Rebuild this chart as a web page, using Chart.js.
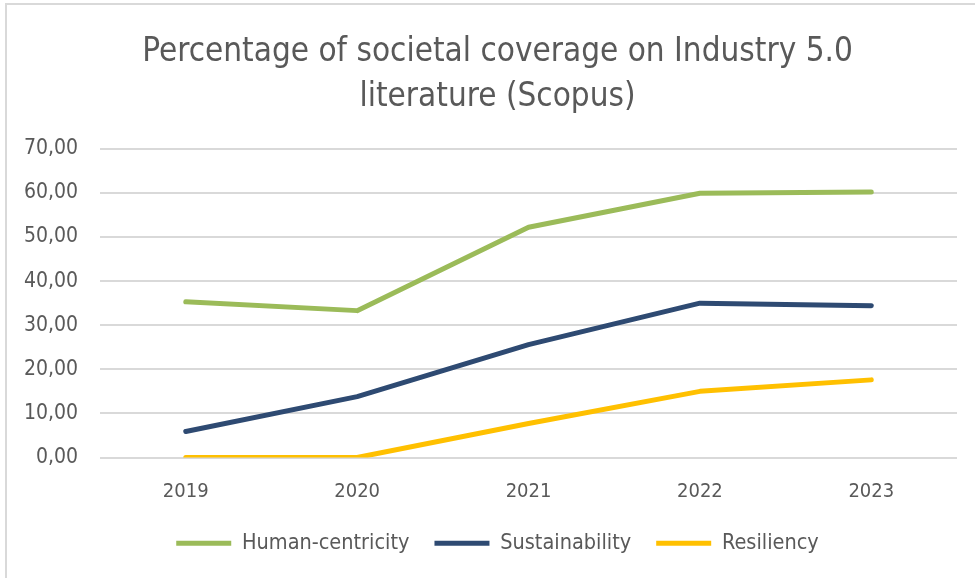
<!DOCTYPE html>
<html lang="en">
<head>
    <meta charset="UTF-8">
    <title>Societal coverage on Industry 5.0 literature</title>
    <script src="https://cdn.jsdelivr.net/npm/chart.js"></script>
    <style>
        body {
            margin: 0;
            padding: 0;
            background-color: #ffffff;
            overflow: hidden;
        }

        .frame {
            position: absolute;
            left: 5px;
            top: 3px;
            width: 1000px;
            height: 600px;
            border-left: 2px solid #d9d9d9;
            border-top: 2px solid #d9d9d9;
        }

        .wrap {
            position: absolute;
            left: 0;
            top: 0;
            width: 975px;
            height: 578px;
        }
    </style>
</head>
<body>
    <div class="frame"></div>
    <div class="wrap">
        <canvas id="coverageChart" width="975" height="578"></canvas>
    </div>
    <script>
        // values
        const years = ['2019', '2020', '2021', '2022', '2023'];
        const humanCentricity = [35.3, 33.3, 52.2, 59.9, 60.2];
        const sustainability = [5.9, 13.8, 25.6, 35.0, 34.4];
        const resiliency = [0.0, 0.0, 7.7, 15.0, 17.6];
        const yTicks = [0, 10, 20, 30, 40, 50, 60, 70];

        const fontFamily = "'Liberation Sans Narrow', 'DejaVu Sans Condensed', 'Open Sans', sans-serif";
        const grey = '#595959';

        function lineSet(label, data, color) {
            return {
                label: label,
                data: data,
                borderColor: color,
                backgroundColor: color,
                borderWidth: 5,
                borderCapStyle: 'round',
                borderJoinStyle: 'round',
                pointRadius: 0,
                tension: 0
            };
        }

        // title and legend sit a bit right of centre in the original
        const shiftBlocks = {
            id: 'shiftBlocks',
            afterLayout(chart) {
                [chart.titleBlock, chart.legend].forEach(b => {
                    if (b) { b.left += 18; b.right += 18; }
                });
            }
        };

        const ctx = document.getElementById('coverageChart').getContext('2d');
        new Chart(ctx, {
            type: 'line',
            data: {
                labels: years,
                datasets: [
                    lineSet('Human-centricity', humanCentricity, '#9bbb59'),
                    lineSet('Sustainability', sustainability, '#2e4a72'),
                    lineSet('Resiliency', resiliency, '#ffc000')
                ]
            },
            plugins: [shiftBlocks],
            options: {
                responsive: false,
                animation: false,
                layout: {
                    padding: { left: 2, right: 18, top: 30, bottom: 14 }
                },
                plugins: {
                    title: {
                        display: true,
                        text: ['Percentage of societal coverage on Industry 5.0', 'literature (Scopus)'],
                        color: grey,
                        font: { family: fontFamily, size: 33, weight: 'normal', lineHeight: 1.36 },
                        padding: { top: 0, bottom: 29 }
                    },
                    legend: {
                        position: 'bottom',
                        labels: {
                            color: grey,
                            font: { family: fontFamily, size: 21.5 },
                            usePointStyle: true,
                            pointStyle: 'line',
                            pointStyleWidth: 55,
                            padding: 25
                        }
                    },
                    tooltip: { enabled: false }
                },
                scales: {
                    x: {
                        offset: true,
                        grid: { display: false },
                        border: { display: false },
                        // labels stay at the same place under the plot, the box just gets shorter
                        afterFit: (axis) => { axis.height -= 10; },
                        ticks: {
                            color: grey,
                            font: { family: fontFamily, size: 20 },
                            padding: 14
                        }
                    },
                    y: {
                        min: 0,
                        max: 70,
                        afterBuildTicks: (axis) => {
                            axis.ticks = yTicks.map(v => ({ value: v }));
                        },
                        grid: { color: '#d9d9d9', lineWidth: 2, drawTicks: false },
                        border: { display: false },
                        ticks: {
                            color: grey,
                            font: { family: fontFamily, size: 21 },
                            padding: 22,
                            callback: (v) => v.toFixed(2).replace('.', ',')
                        }
                    }
                }
            }
        });
    </script>
</body>
</html>
